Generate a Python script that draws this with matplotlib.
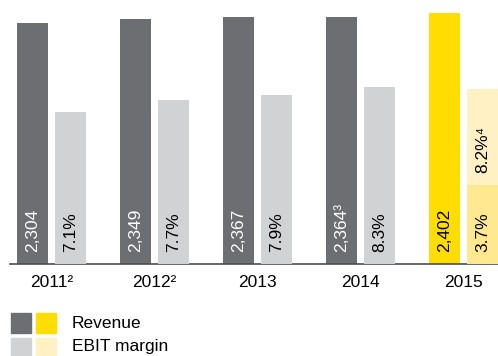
import numpy as np
from matplotlib import pyplot as plt

plt.rcParams['font.family'] = ['Liberation Sans', 'DejaVu Sans']

years = ['2011²', '2012²', '2013', '2014', '2015']
revenue = [2304, 2349, 2367, 2364, 2402]
revenue_labels = ['2,304', '2,349', '2,367', '2,364³', '2,402']
ebit_margin = [7.1, 7.7, 7.9, 8.3, 3.7]
ebit_labels = ['7.1%', '7.7%', '7.9%', '8.3%', '3.7%']
ebit_adjusted_2015 = 8.2
ebit_adjusted_label = '8.2%⁴'

dark_grey = '#6d6e71'
light_grey = '#d1d2d4'
yellow = '#ffdd00'
cream = '#fff1c4'
cream_dark = '#ffe88f'

W, H = 498, 356
fig = plt.figure(figsize=(W / 100, H / 100), dpi=100)
ax = fig.add_axes([10 / W, (H - 264) / H, 488 / W, 264 / H])
ax2 = ax.twinx()

x = np.arange(len(years))
bw = 0.301
off = 0.184

rev_colors = [dark_grey] * 4 + [yellow]
ebit_colors = [light_grey] * 4 + [cream_dark]
ax.bar(x - off, revenue, bw, color=rev_colors)
ax2.bar(x + off, ebit_margin, bw, color=ebit_colors)
ax2.bar(x[-1] + off, ebit_adjusted_2015 - ebit_margin[-1], bw, bottom=ebit_margin[-1], color=cream)

ax.set_xlim(-0.403, 4.335)
ax.set_ylim(0, 2529)
ax2.set_ylim(0, 12.37)

for i in range(len(years)):
    tc = 'white' if i < 4 else 'black'
    ax.annotate(revenue_labels[i], (x[i] - off, 0), xytext=(0, 12), textcoords='offset pixels',
                rotation=90, ha='center', va='bottom', color=tc, fontsize=12.5)
    ax2.annotate(ebit_labels[i], (x[i] + off, 0), xytext=(0, 12), textcoords='offset pixels',
                 rotation=90, ha='center', va='bottom', color='black', fontsize=12.5)
ax2.annotate(ebit_adjusted_label, (x[-1] + off, ebit_margin[-1]), xytext=(0, 12), textcoords='offset pixels',
             rotation=90, ha='center', va='bottom', color='black', fontsize=12.5)

for a in (ax, ax2):
    for s in ['top', 'left', 'right']:
        a.spines[s].set_visible(False)
    a.set_yticks([])
ax2.spines['bottom'].set_visible(False)
ax.spines['bottom'].set_color('#4d4d4f')
ax.spines['bottom'].set_linewidth(1.2)
ax.set_xticks(x)
ax.set_xticklabels(years, fontsize=12.5)
ax.tick_params(axis='x', length=0, pad=8)

# legend drawn by hand at the bottom
def px(xp, yp):
    return xp / W, 1 - yp / H

for (xp, yp), c in zip([(11, 313), (36, 313), (11, 338), (36, 338)],
                       [dark_grey, yellow, light_grey, cream]):
    fig.patches.append(plt.Rectangle(px(xp, yp + 20), 20 / W, 20 / H, color=c,
                                     transform=fig.transFigure, figure=fig))
fig.text(*px(72, 323), 'Revenue', fontsize=12.5, va='center')
fig.text(*px(72, 347), 'EBIT margin', fontsize=12.5, va='center')

fig.savefig('out.png', dpi=100)
